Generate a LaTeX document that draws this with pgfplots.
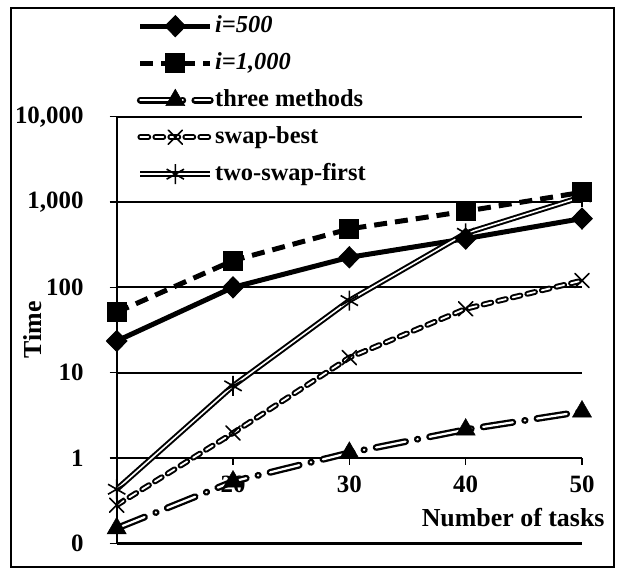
\documentclass[border=0pt]{standalone}
\usepackage{fontspec}
\setmainfont{Liberation Serif}
\usepackage{pgfplots}
\pgfplotsset{compat=1.18}
\begin{document}
\begin{tikzpicture}
\useasboundingbox (-116.7bp,-32.7bp) rectangle (504.3bp,543.3bp);
\draw[line width=2bp] (-105.7bp,-23.7bp) rectangle (497.3bp,535.3bp);
\begin{axis}[
  at={(0,0)}, anchor=south west,
  width=465.3bp, height=426.6bp, scale only axis,
  xmin=10, xmax=50, ymode=log, ymin=0.1, ymax=10000,
  axis x line=middle, axis y line=left,
  axis line style={-, line width=1.8bp, black},
  xtick={10,20,30,40,50}, xticklabels={10,20,30,40,50},
  ytick={1,10,100,1000,10000}, yticklabels={1,10,100,{1,000},{10,000}},
  extra y ticks={0.1}, extra y tick labels={0},
  extra y tick style={grid style={black, line width=2.6bp}},
  yminorticks=false,
  ymajorgrids, grid style={black, line width=1.8bp},
  tick align=outside, major tick length=7bp,
  tick style={black, line width=1.4bp},
  /pgf/number format/assume math mode=true,
  ticklabel style={font=\bfseries\fontsize{25}{25}\selectfont},
  yticklabel style={anchor=east, inner sep=0pt, xshift=-26bp},
  xticklabel style={anchor=north, inner sep=0pt, yshift=-11bp},
  xlabel={Number of tasks}, ylabel={Time},
  label style={font=\bfseries\fontsize{26}{26}\selectfont},
  xlabel style={at={(axis description cs:1.056,0.0593)}, anchor=east},
  ylabel style={at={(axis description cs:-0.18,0.5)}, anchor=center, rotate=0},
  legend style={at={(axis description cs:0.043,1.2408)}, anchor=north west,
    draw=none, fill=none, inner sep=0pt, row sep=13bp, column sep=1.5bp,
    font=\bfseries\fontsize{24.5}{24.5}\selectfont,
    nodes={inner sep=0pt, text height=18bp, text depth=6bp}},
  legend cell align=left,
  legend image code/.code={\draw[mark repeat=2,mark phase=2,#1] plot coordinates {(0bp,0bp)(35bp,0bp)(70bp,0bp)};},
]
\addplot[black, line width=5bp, mark=diamond*, mark size=10.5bp, mark options={solid, xscale=1.3, line width=1bp}]
  coordinates {(10,23.5)(20,100)(30,225)(40,372)(50,640)};
\addlegendentry{\textit{i=500}}
\addplot[black, line width=5bp, dash pattern=on 13bp off 8bp, mark=square*, mark size=9.5bp, mark options={solid, line width=1bp}]
  coordinates {(10,51)(20,206)(30,484)(40,780)(50,1300)};
\addlegendentry{\textit{i=1,000}}
\addplot[black, line width=2.3bp, double=white, double distance=2.2bp, line cap=round, dash pattern=on 30bp off 12bp on 0.5bp off 12bp, mark=triangle*, mark size=11bp, mark options={solid, line width=0.5bp}]
  coordinates {(10,0.15)(20,0.53)(30,1.15)(40,2.15)(50,3.5)};
\addlegendentry{three methods}
\addplot[black, line width=2bp, double=white, double distance=1.8bp, line cap=round, dash pattern=on 8bp off 7bp, mark=x, mark size=10bp, mark options={solid, line width=1.6bp}]
  coordinates {(10,0.28)(20,1.96)(30,15)(40,56)(50,120)};
\addlegendentry{swap-best}
\addplot[black, line width=2bp, double=white, double distance=1.6bp, mark=asterisk, mark size=10bp, mark options={solid, line width=1.6bp}]
  coordinates {(10,0.43)(20,7.0)(30,70)(40,430)(50,1150)};
\addlegendentry{two-swap-first}
\end{axis}
\end{tikzpicture}
\end{document}
